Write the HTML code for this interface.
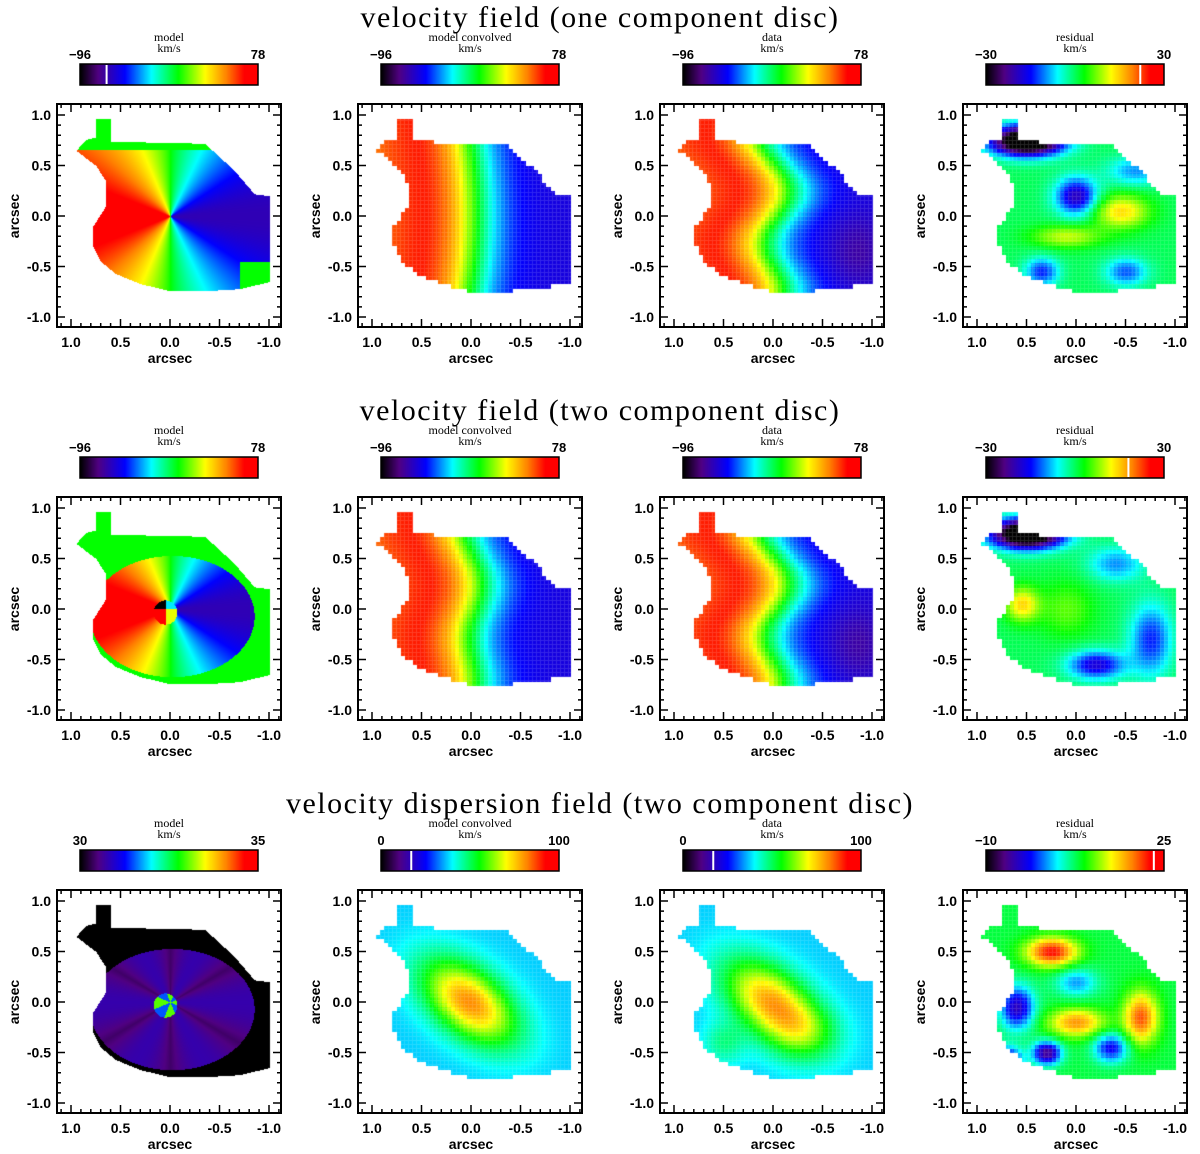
<!DOCTYPE html>
<html><head><meta charset="utf-8">
<style>
html,body{margin:0;padding:0;background:#fff;}
#wrap{position:relative;width:1200px;height:1154px;overflow:hidden;}
canvas,svg{position:absolute;left:0;top:0;}
</style></head>
<body>
<div id="wrap">
<canvas id="cv" width="1200" height="1154"></canvas>
<svg id="sv" width="1200" height="1154" xmlns="http://www.w3.org/2000/svg"></svg>
</div>
<script>
// ---- data arrays ----
const rowTitles = ["velocity field (one component disc)","velocity field (two component disc)","velocity dispersion field (two component disc)"];
const colLabels = ["model","model convolved","data","residual"];
const cbMin = [[-96,-96,-96,-30],[-96,-96,-96,-30],[30,0,0,-10]];
const cbMax = [[78,78,78,30],[78,78,78,30],[35,100,100,25]];
const cbMarkers = [[-70,null,null,22],[null,null,null,18],[null,17,17,23]];
const axisTicks = [1.0,0.5,0.0,-0.5,-1.0];
const tickText = ["1.0","0.5","0.0","-0.5","-1.0"];
// mask polygon (data coords)
const maskX = [0.75,0.6,0.6,-0.35,-0.65,-0.85,-1.0,-1.0,-0.7,-0.35,0.0,0.3,0.55,0.7,0.78,0.78,0.65,0.65,0.75,0.95,0.85,0.75];
const maskY = [0.97,0.97,0.74,0.72,0.45,0.22,0.2,-0.65,-0.72,-0.74,-0.74,-0.67,-0.57,-0.45,-0.3,-0.1,0.1,0.35,0.5,0.65,0.76,0.78];
// residual blobs: x, y, sx, sy, amp
const res1 = [[0.0,0.2,0.15,0.13,-20],[-0.45,0.05,0.2,0.12,14],[0.1,-0.2,0.25,0.08,10],[0.5,0.75,0.25,0.1,-45],[0.35,-0.55,0.12,0.1,-14],[-0.5,-0.55,0.15,0.1,-12],[-0.6,0.45,0.2,0.1,-10]];
const res2 = [[0.55,0.05,0.12,0.12,14],[0.5,0.75,0.25,0.1,-45],[-0.2,-0.55,0.2,0.1,-18],[-0.75,-0.3,0.15,0.25,-14],[-0.4,0.45,0.2,0.12,-10],[0.1,0.0,0.2,0.2,6]];
const res3 = [[0.25,0.5,0.18,0.1,14],[-0.65,-0.15,0.12,0.18,12],[0.0,-0.2,0.2,0.1,10],[0.6,-0.05,0.12,0.15,-12],[0.3,-0.5,0.1,0.08,-14],[-0.35,-0.45,0.12,0.1,-10],[0.0,0.2,0.15,0.1,-6],[0.7,-0.6,0.1,0.1,-16]];

const colL = [57,358,660,963], rowT = [104,497,890];
const W = 224, H = 223, SX = 99, SY = 101;

const stops = [[0,0,0,0],[0.1,80,0,130],[0.25,0,0,255],[0.4,0,255,255],[0.55,0,255,0],[0.7,255,255,0],[0.82,255,130,0],[0.92,255,0,0],[1,255,0,0]];
function cmap(t){t=Math.max(0,Math.min(1,t));for(let i=1;i<stops.length;i++){if(t<=stops[i][0]){const a=stops[i-1],b=stops[i];const f=(t-a[0])/(b[0]-a[0]);return [a[1]+(b[1]-a[1])*f,a[2]+(b[2]-a[2])*f,a[3]+(b[3]-a[3])*f];}}return [255,0,0];}
function inMask(x,y){let c=false;const n=maskX.length;for(let i=0,j=n-1;i<n;j=i++){if(((maskY[i]>y)!=(maskY[j]>y))&&(x<(maskX[j]-maskX[i])*(y-maskY[i])/(maskY[j]-maskY[i])+maskX[i]))c=!c;}return c;}
function blobs(x,y,arr){let s=0;for(const b of arr){s+=b[4]*Math.exp(-(((x-b[0])/b[2])**2+((y-b[1])/b[3])**2)/2);}return s;}
function convVel(x,y,wave){const xx=x+0.05+wave*Math.sin(y*6)-0.12*y*y;const A=xx>0?68:60;let v=A*Math.tanh(xx/0.35);if(xx>0.5)v*=1-0.6*(xx-0.5);return v;}
function field(r,c,x,y){
  if(r<2){
    if(c===0){
      if(r===1){const e=((x+0.02)/0.83)**2+((y+0.07)/0.6)**2;if(e>1)return 0;const rr=Math.hypot(x-0.05,y+0.03);if(rr<0.12){return (y>0?-96:78)*(x>0.05?1:0.3);} }
      else { if(y>0.66)return 0; if(x<-0.7&&y<-0.45)return 0; }
      const d=Math.sqrt(x*x+(y*1.5)**2)+1e-6;const q=x/d;return (x>0?72:68)*Math.sign(q)*Math.pow(Math.abs(q),0.8);}
    if(c===1)return convVel(x,y,r===1?0.06:0.0);
    if(c===2)return convVel(x,y,0.12)-12*Math.exp(-(((x+0.85)/0.2)**2+((y+0.35)/0.25)**2)/2);
    return blobs(x,y,r===0?res1:res2);
  }
  if(c===0){const e=((x+0.02)/0.83)**2+((y+0.07)/0.6)**2;if(e>1)return 30;const rr=Math.hypot(x-0.05,y+0.03);const a=Math.atan2(y,x);if(rr<0.12)return Math.cos(a*4)>0?33:31.5;return 30.4+0.35*Math.abs(Math.cos(a*3));}
  const ct=Math.cos(-0.9),st=Math.sin(-0.9);const u=(x-0.02)*ct+(y-0.0)*st,w=-(x-0.02)*st+(y-0.0)*ct;
  const blob=44*Math.exp(-((u/0.22)**2+(w/0.38)**2)/2);
  if(c===1)return 37+blob;
  if(c===2)return 37+blob*0.95+12*Math.exp(-(((x+0.3)/0.25)**2+((y+0.3)/0.2)**2)/2)+10*Math.exp(-(((x-0.5)/0.15)**2+((y+0.4)/0.15)**2)/2);
  return 8+blobs(x,y,res3);
}
const cv=document.getElementById('cv');const ctx=cv.getContext('2d');
const img=ctx.createImageData(1200,1154);
for(let i=0;i<img.data.length;i++)img.data[i]=255;
const cell=0.042;
for(let r=0;r<3;r++)for(let c=0;c<4;c++){
  const L=colL[c],T=rowT[r];const cx=L+113,cy=T+112;
  for(let py=T+1;py<T+H;py++)for(let px=L+1;px<L+W;px++){
    let x=(cx-px)/SX,y=(cy-py)/SY;
    if(c>0){x=(Math.floor(x/cell)+0.5)*cell;y=(Math.floor(y/cell)+0.5)*cell;}
    if(!inMask(x,y))continue;
    const v=field(r,c,x,y);const t=(v-cbMin[r][c])/(cbMax[r][c]-cbMin[r][c]);
    let col=cmap(t);
    if(c>0&&((px%4)===0||(py%4)===0))col=col.map(q=>q*0.85+255*0.15);
    const k=(py*1200+px)*4;
    img.data[k]=col[0];img.data[k+1]=col[1];img.data[k+2]=col[2];
  }
  const bx=L+23,by=T-40;
  for(let px=bx;px<bx+178;px++){const col=cmap((px-bx)/178);for(let py=by;py<by+21;py++){const k=(py*1200+px)*4;img.data[k]=col[0];img.data[k+1]=col[1];img.data[k+2]=col[2];}}
}
ctx.putImageData(img,0,0);

const NS="http://www.w3.org/2000/svg";const sv=document.getElementById('sv');
function mk(tag,attrs,txt){const e=document.createElementNS(NS,tag);for(const k in attrs)e.setAttribute(k,attrs[k]);if(txt!==undefined)e.textContent=txt;sv.appendChild(e);return e;}
for(let r=0;r<3;r++){
  const t=mk('text',{x:600,y:rowT[r]-77,'text-anchor':'middle','font-family':'Liberation Serif, serif','font-size':30,'letter-spacing':'1.5'},rowTitles[r]);
  
  
}
for(let r=0;r<3;r++)for(let c=0;c<4;c++){
  const L=colL[c],T=rowT[r];const cx=L+113,cy=T+112;const id='r'+(r+1)+'c'+(c+1);
  const box=mk('rect',{x:L,y:T,width:W,height:H,fill:'none',stroke:'#000','stroke-width':2});
  
  
  let d='';
  for(let i=-11;i<=11;i++){const v=i/10;const len=(i%5===0)?8:4;const px=cx-v*SX,py=cy-v*SY;
    if(px>L+1&&px<L+W-1)d+=`M${px},${T+H}v${-len}M${px},${T}v${len}`;
    if(py>T+1&&py<T+H-1)d+=`M${L},${py}h${len}M${L+W},${py}h${-len}`;}
  const tk=mk('path',{d:d,stroke:'#000','stroke-width':1.5,fill:'none'});
  
  
  for(let i=0;i<axisTicks.length;i++){
    const xl=mk('text',{x:cx-axisTicks[i]*SX,y:T+H+20,'text-anchor':'middle','font-family':'Liberation Sans, sans-serif','font-weight':'bold','font-size':14},tickText[i]);
    
    
    const yl=mk('text',{x:L-6,y:cy-axisTicks[i]*SY+5,'text-anchor':'end','font-family':'Liberation Sans, sans-serif','font-weight':'bold','font-size':14},tickText[i]);
    
    
  }
  const xt=mk('text',{x:cx,y:T+H+36,'text-anchor':'middle','font-family':'Liberation Sans, sans-serif','font-weight':'bold','font-size':14},'arcsec');
  
  
  const yt=mk('text',{x:0,y:0,transform:`translate(${L-38},${cy}) rotate(-90)`,'text-anchor':'middle','font-family':'Liberation Sans, sans-serif','font-weight':'bold','font-size':14},'arcsec');
  
  
  const bx=L+23,by=T-40;
  const cb=mk('rect',{x:bx,y:by,width:178,height:21,fill:'none',stroke:'#000','stroke-width':1.5});
  
  
  const m=cbMarkers[r][c];
  if(m!==null){const mx=bx+178*(m-cbMin[r][c])/(cbMax[r][c]-cbMin[r][c]);const ml=mk('line',{x1:mx,x2:mx,y1:by+1,y2:by+20,stroke:'#fff','stroke-width':2});
    
    }
  const a=mk('text',{x:bx,y:by-5,'text-anchor':'middle','font-family':'Liberation Sans, sans-serif','font-weight':'bold','font-size':13},String(cbMin[r][c]).replace('-','−'));
  
  
  const b=mk('text',{x:bx+178,y:by-5,'text-anchor':'middle','font-family':'Liberation Sans, sans-serif','font-weight':'bold','font-size':13},String(cbMax[r][c]));
  
  
  const n=mk('text',{x:bx+89,y:by-23,'text-anchor':'middle','font-family':'Liberation Serif, serif','font-size':12},colLabels[c]);
  
  
  const u=mk('text',{x:bx+89,y:by-12,'text-anchor':'middle','font-family':'Liberation Serif, serif','font-size':12},'km/s');
  
  
}
</script>
</body></html>
